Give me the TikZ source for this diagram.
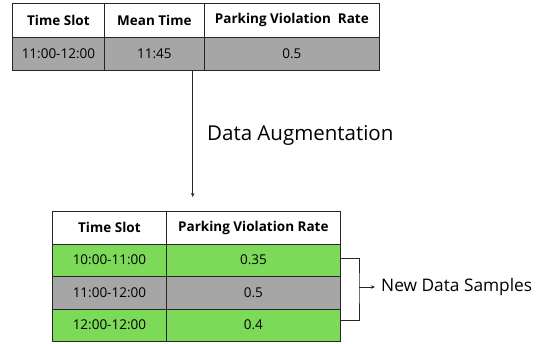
\documentclass[tikz,border=0pt]{standalone}
\usepackage{fontspec}
\setmainfont{Open Sans}
\usepackage{xcolor}
\usetikzlibrary{positioning,arrows.meta}

\definecolor{rowgray}{RGB}{166,166,166}
\definecolor{rowgreen}{RGB}{125,218,88}
\tikzset{
  cell/.style={draw=black!85, line width=0.8pt, inner sep=0pt, anchor=north west,
    font=\fontsize{13.5}{16}\selectfont},
  headcell/.style={cell, fill=white, font=\fontsize{13.5}{16}\selectfont\bfseries},
  graycell/.style={cell, fill=rowgray},
  greencell/.style={cell, fill=rowgreen},
  link/.style={line width=0.8pt, draw=black!85},
}

\begin{document}
\begin{tikzpicture}[x=1pt, y=-1pt]
    \useasboundingbox (0,0) rectangle (559,343);
    % Original sample
    \node [headcell, minimum width=92pt, minimum height=33.5pt] (slot) at (12,3) {Time Slot};
    \node [headcell, minimum width=100pt, minimum height=33.5pt] (mean) at (104,3) {Mean Time};
    \node [headcell, minimum width=175pt, minimum height=33.5pt] (rate) at (204,3) {Parking Violation\ \ Rate};
    \node [graycell, minimum width=92pt, minimum height=33.5pt] (slotval) at (12,36.5) {11:00-12:00};
    \node [graycell, minimum width=100pt, minimum height=33.5pt] (meanval) at (104,36.5) {11:45};
    \node [graycell, minimum width=175pt, minimum height=33.5pt] (rateval) at (204,36.5) {0.5};
    % Augmented samples
    \node [headcell, minimum width=114pt, minimum height=32.5pt] (augslot) at (52,211) {Time Slot};
    \node [headcell, minimum width=174pt, minimum height=32.5pt] (augrate) at (166,211) {Parking Violation Rate};
    \node [greencell, minimum width=114pt, minimum height=32.5pt] (slotA) at (52,243.5) {10:00-11:00};
    \node [greencell, minimum width=174pt, minimum height=32.5pt] (rateA) at (166,243.5) {0.35};
    \node [graycell, minimum width=114pt, minimum height=32.5pt] (slotB) at (52,276) {11:00-12:00};
    \node [graycell, minimum width=174pt, minimum height=32.5pt] (rateB) at (166,276) {0.5};
    \node [greencell, minimum width=114pt, minimum height=32.5pt] (slotC) at (52,308.5) {12:00-12:00};
    \node [greencell, minimum width=174pt, minimum height=32.5pt] (rateC) at (166,308.5) {0.4};
    % Augmentation arrow
    \coordinate (augend) at (192.7,197);
    \draw [link, -{Stealth[length=4pt,width=3.5pt]}] (meanval.south -| augend) -- (augend);
    \node [anchor=west, inner sep=0pt, font=\fontsize{20.5}{24}\selectfont] (auglabel) at (207,135) {Data Augmentation};
    % New samples bracket
    \coordinate (brk) at (359,287);
    \draw [link] ([yshift=2pt]rateA.east) -| (brk) |- ([yshift=5pt]rateC.east);
    \node [anchor=west, inner sep=0pt, font=\fontsize{17.3}{20}\selectfont] (newlabel) at (381,287) {New Data Samples};
    \draw [link, -{Stealth[length=4pt,width=3.5pt]}] (brk) -- ([xshift=-6pt]newlabel.west);
\end{tikzpicture}
\end{document}
